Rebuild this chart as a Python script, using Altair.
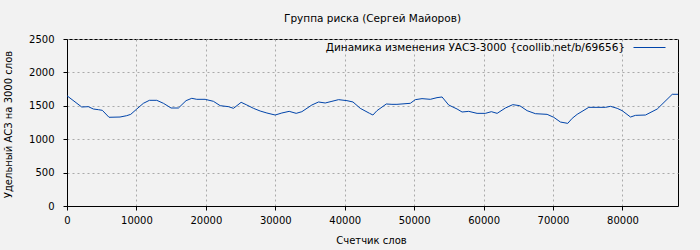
import altair as alt
import pandas as pd

words = [0, 2120, 3070, 3800, 4520, 5090, 6050, 7640, 8600, 9180, 10050, 11000,
         11870, 12930, 13890, 14990, 16050, 17150, 17970, 18690, 19890, 21090,
         22060, 23260, 23980, 25080, 25900, 26860, 27820, 28790, 29980, 30940,
         32000, 33010, 33830, 35270, 36230, 37190, 38160, 39110, 40320, 41190,
         42240, 43580, 44060, 44640, 45990, 46800, 47520, 49440, 50170, 51130,
         52330, 53290, 54020, 54970, 56180, 56900, 57860, 59060, 60260, 61120,
         61950, 63140, 64200, 65200, 66270, 67460, 69150, 70100, 71070, 72120,
         72760, 73480, 75150, 77560, 78280, 79240, 79960, 81160, 81880, 83320,
         85010, 87170, 88000]
uasz = [1650, 1482, 1487, 1452, 1442, 1432, 1328, 1332, 1352, 1372, 1452, 1537,
        1582, 1582, 1537, 1467, 1467, 1577, 1612, 1597, 1597, 1567,
        1502, 1487, 1462, 1552, 1512, 1462, 1422, 1392, 1362, 1392,
        1417, 1387, 1412, 1512, 1557, 1542, 1567, 1592, 1577, 1557,
        1462, 1387, 1362, 1427, 1527, 1522, 1522, 1537, 1592, 1607,
        1597, 1622, 1632, 1512, 1452, 1407, 1417, 1387, 1387, 1412,
        1387, 1467, 1517, 1502, 1427, 1382, 1372, 1328, 1257, 1237,
        1312, 1372, 1477, 1477, 1492, 1462, 1427, 1332, 1357, 1362,
        1452, 1672, 1672]
series_name = "Динамика изменения УАСЗ-3000 {coollib.net/b/69656}"
x_ticks = [0, 10000, 20000, 30000, 40000, 50000, 60000, 70000, 80000]
y_ticks = [0, 500, 1000, 1500, 2000, 2500]

df = pd.DataFrame({"x": words, "y": uasz, "s": [series_name] * len(words)})

FONT = "DejaVu Sans"

chart = alt.Chart(df).mark_line(strokeWidth=1, interpolate="linear").encode(
    x=alt.X("x:Q", scale=alt.Scale(domain=[0, 88000], nice=False, zero=False),
            axis=alt.Axis(values=x_ticks, title="Счетчик слов", format="d",
                          titleX=304, titleY=34, titleBaseline="middle",
                          labelPadding=5, labelFlush=False)),
    y=alt.Y("y:Q", scale=alt.Scale(domain=[0, 2500], nice=False),
            axis=alt.Axis(values=y_ticks, title="Удельный АСЗ на 3000 слов", format="d",
                          titleX=-59, titleY=85, titleAngle=-90, titleAlign="center",
                          titleBaseline="middle", labelPadding=9)),
    color=alt.Color("s:N", scale=alt.Scale(range=["#0044aa"]),
                    legend=alt.Legend(title=None, orient="none", legendX=566, legendY=-8,
                                      symbolType="stroke", symbolSize=1024,
                                      symbolStrokeWidth=1, labelAlign="right",
                                      labelOffset={"expr": "-41"}, padding=0,
                                      labelFont=FONT, labelFontSize=10.5,
                                      labelColor="#000000", labelLimit=0)),
).properties(
    width=611, height=167,
    title=alt.TitleParams("Группа риска (Сергей Майоров)", anchor="middle",
                          baseline="alphabetic", offset=1, dy=2, font=FONT, fontSize=10.5,
                          fontWeight="normal", color="#000000"),
    autosize=alt.AutoSizeParams(type="none"),
    padding={"left": 67, "top": 39, "right": 22, "bottom": 44},
    background="#f2f2f2",
).configure_view(
    stroke="#000000", strokeWidth=1
).configure_axis(
    labelFont=FONT, titleFont=FONT, labelFontSize=10, titleFontSize=10,
    labelColor="#000000", titleColor="#000000", titleFontWeight="normal",
    domainColor="#000000", tickColor="#000000", tickSize=4,
    gridColor="#aaaaaa", gridDash=[2, 3], gridOpacity=1, gridWidth=1,
)

chart.save("out.html", embed_options={"renderer": "svg", "actions": False})
